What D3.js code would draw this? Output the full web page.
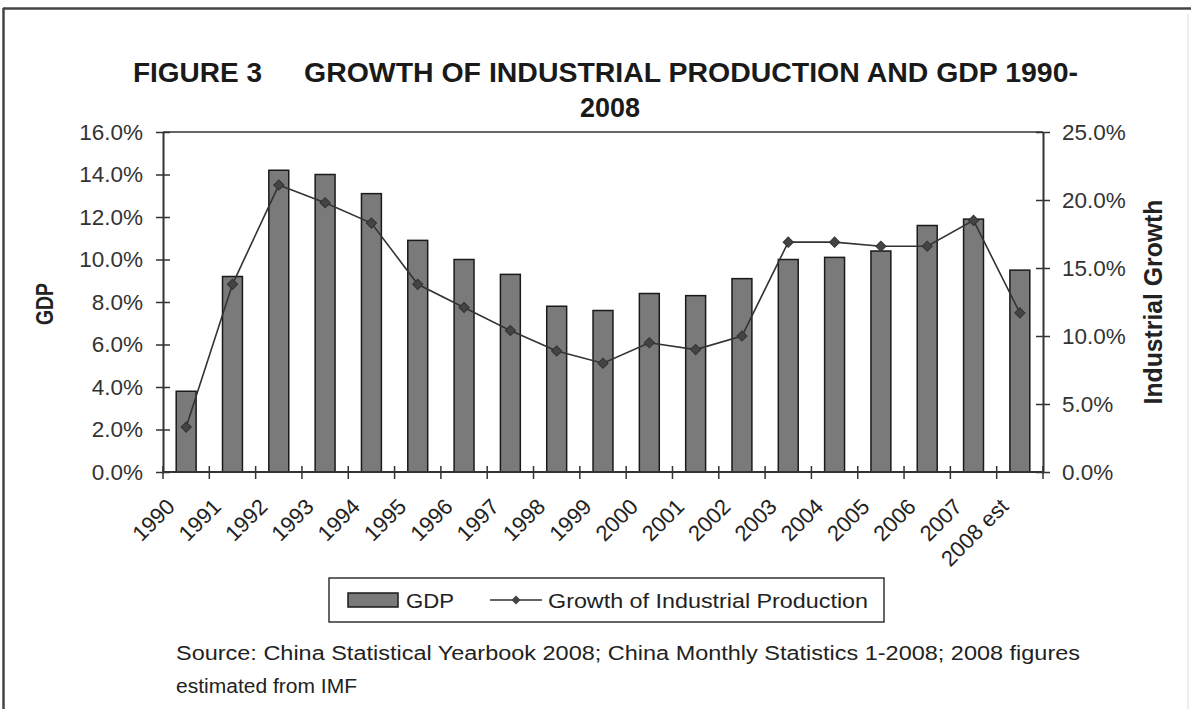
<!DOCTYPE html>
<html>
<head>
<meta charset="utf-8">
<script src="https://cdn.jsdelivr.net/npm/d3@7"></script>
<style>
  html, body { margin: 0; padding: 0; background: #fff; }
  svg { display: block; font-family: "Liberation Sans", Arial, sans-serif; }
</style>
</head>
<body>
<svg id="chart" width="1191" height="709"></svg>
<script>
// ---- data ----
const years = ["1990","1991","1992","1993","1994","1995","1996","1997","1998","1999",
               "2000","2001","2002","2003","2004","2005","2006","2007","2008 est"];
const gdp = [3.8, 9.2, 14.2, 14.0, 13.1, 10.9, 10.0, 9.3, 7.8, 7.6,
             8.4, 8.3, 9.1, 10.0, 10.1, 10.4, 11.6, 11.9, 9.5];
const industrial = [3.3, 13.8, 21.1, 19.8, 18.3, 13.8, 12.1, 10.4, 8.9, 8.0,
                    9.5, 9.0, 10.0, 16.9, 16.9, 16.6, 16.6, 18.5, 11.7];
const leftTicks = [0, 2, 4, 6, 8, 10, 12, 14, 16];
const rightTicks = [0, 5, 10, 15, 20, 25];
const titleLine1a = "FIGURE 3";
const titleLine1b = "GROWTH OF INDUSTRIAL PRODUCTION AND GDP 1990-";
const titleLine2 = "2008";
const leftTitle = "GDP";
const rightTitle = "Industrial Growth";
const legendLabels = ["GDP", "Growth of Industrial Production"];
const sourceLines = ["Source: China Statistical Yearbook 2008; China Monthly Statistics 1-2008; 2008 figures",
                     "estimated from IMF"];

// ---- layout ----
const svg = d3.select("#chart");
const L = 163, R = 1043, T = 132, B = 472;
const axisCol = "#333";

// outer frame
svg.append("line").attr("x1", 3).attr("x2", 1191).attr("y1", 8.5).attr("y2", 8.5)
  .attr("stroke", "#444").attr("stroke-width", 2.5);
svg.append("line").attr("x1", 3.5).attr("x2", 3.5).attr("y1", 8).attr("y2", 709)
  .attr("stroke", "#444").attr("stroke-width", 2.5);
svg.append("line").attr("x1", 1188).attr("x2", 1188).attr("y1", 14).attr("y2", 709)
  .attr("stroke", "#ddd").attr("stroke-width", 1);

// scales
const x = d3.scaleBand().domain(years).range([L, R]).paddingInner(0.57).paddingOuter(0.285);
const yL = d3.scaleLinear().domain([0, 16]).range([B, T]);
const yR = d3.scaleLinear().domain([0, 25]).range([B, T]);

// plot top border
svg.append("line").attr("x1", L).attr("x2", R).attr("y1", T).attr("y2", T)
  .attr("stroke", axisCol).attr("stroke-width", 1.5);

// bars
svg.append("g").selectAll("rect").data(gdp).join("rect")
  .attr("x", (d, i) => x(years[i]))
  .attr("width", x.bandwidth())
  .attr("y", d => yL(d))
  .attr("height", d => B - yL(d))
  .attr("fill", "#7a7a7a")
  .attr("stroke", "#1a1a1a")
  .attr("stroke-width", 1.5);

// left axis
const gL = svg.append("g").attr("transform", `translate(${L},0)`)
  .call(d3.axisLeft(yL).tickValues(leftTicks).tickFormat(d => d.toFixed(1) + "%")
        .tickSizeInner(7).tickSizeOuter(0).tickPadding(13));
gL.select(".domain").attr("stroke", axisCol).attr("stroke-width", 2);
gL.selectAll(".tick line").attr("x1", 7).attr("stroke", axisCol).attr("stroke-width", 1.5);
gL.selectAll(".tick text").attr("font-size", 22.5).attr("fill", "#333")
  .attr("font-family", "'Liberation Sans', Arial, sans-serif");

// right axis
const gR = svg.append("g").attr("transform", `translate(${R},0)`)
  .call(d3.axisRight(yR).tickValues(rightTicks).tickFormat(d => d.toFixed(1) + "%")
        .tickSizeInner(7).tickSizeOuter(0).tickPadding(12));
gR.select(".domain").attr("stroke", axisCol).attr("stroke-width", 2);
gR.selectAll(".tick line").attr("x1", -7).attr("stroke", axisCol).attr("stroke-width", 1.5);
gR.selectAll(".tick text").attr("font-size", 22.5).attr("fill", "#333")
  .attr("font-family", "'Liberation Sans', Arial, sans-serif");

// x axis (ticks between categories)
const step = x.step();
const bounds = d3.range(years.length + 1).map(i => L + i * step);
svg.append("line").attr("x1", L).attr("x2", R).attr("y1", B).attr("y2", B)
  .attr("stroke", axisCol).attr("stroke-width", 2);
svg.append("g").selectAll("line").data(bounds).join("line")
  .attr("x1", d => d).attr("x2", d => d).attr("y1", B - 6).attr("y2", B + 7)
  .attr("stroke", axisCol).attr("stroke-width", 1.5);
svg.append("g").selectAll("text").data(years).join("text")
  .attr("transform", d => `translate(${x(d) + x.bandwidth() / 2 - 10},${508}) rotate(-45)`)
  .attr("text-anchor", "end")
  .attr("font-size", 22)
  .attr("fill", "#222")
  .text(d => d);

// line
const line = d3.line().x((d, i) => x(years[i]) + x.bandwidth() / 2).y(d => yR(d));
svg.append("path").datum(industrial).attr("d", line)
  .attr("fill", "none").attr("stroke", "#333").attr("stroke-width", 1.6);
svg.append("g").selectAll("path").data(industrial).join("path")
  .attr("d", d3.symbol().type(d3.symbolSquare).size(52))
  .attr("transform", (d, i) => `translate(${x(years[i]) + x.bandwidth() / 2},${yR(d)}) rotate(45)`)
  .attr("fill", "#444").attr("stroke", "#333").attr("stroke-width", 1);

// titles
svg.append("text").attr("x", 133).attr("y", 82).attr("font-size", 27).attr("font-weight", "bold")
  .attr("fill", "#1a1a1a").attr("textLength", 129).attr("lengthAdjust", "spacingAndGlyphs").text(titleLine1a);
svg.append("text").attr("x", 304).attr("y", 82).attr("font-size", 27).attr("font-weight", "bold")
  .attr("fill", "#1a1a1a").attr("textLength", 774).attr("lengthAdjust", "spacingAndGlyphs").text(titleLine1b);
svg.append("text").attr("x", 580).attr("y", 117).attr("font-size", 27).attr("font-weight", "bold")
  .attr("fill", "#1a1a1a").attr("textLength", 60).attr("lengthAdjust", "spacingAndGlyphs").text(titleLine2);

// axis titles
svg.append("text").attr("transform", "translate(53,304) rotate(-90)")
  .attr("text-anchor", "middle").attr("font-size", 23).attr("font-weight", "bold").attr("fill", "#222")
  .attr("textLength", 42).attr("lengthAdjust", "spacingAndGlyphs").text(leftTitle);
svg.append("text").attr("transform", "translate(1162,302) rotate(-90)")
  .attr("text-anchor", "middle").attr("font-size", 25).attr("font-weight", "bold").attr("fill", "#222")
  .attr("textLength", 205).attr("lengthAdjust", "spacingAndGlyphs").text(rightTitle);

// legend
const lg = svg.append("g");
lg.append("rect").attr("x", 329).attr("y", 578).attr("width", 555).attr("height", 44)
  .attr("fill", "#fff").attr("stroke", "#333").attr("stroke-width", 1.5);
lg.append("rect").attr("x", 348).attr("y", 593).attr("width", 50).attr("height", 14)
  .attr("fill", "#7a7a7a").attr("stroke", "#1a1a1a").attr("stroke-width", 1.5);
lg.append("text").attr("x", 406).attr("y", 608).attr("font-size", 21).attr("fill", "#222")
  .attr("textLength", 48).attr("lengthAdjust", "spacingAndGlyphs").text(legendLabels[0]);
lg.append("line").attr("x1", 490).attr("x2", 542).attr("y1", 600).attr("y2", 600)
  .attr("stroke", "#333").attr("stroke-width", 1.6);
lg.append("path").attr("d", d3.symbol().type(d3.symbolSquare).size(40))
  .attr("transform", "translate(516,600) rotate(45)").attr("fill", "#444");
lg.append("text").attr("x", 548).attr("y", 608).attr("font-size", 21).attr("fill", "#222")
  .attr("textLength", 320).attr("lengthAdjust", "spacingAndGlyphs").text(legendLabels[1]);

// source
svg.append("text").attr("x", 176).attr("y", 660).attr("font-size", 20).attr("fill", "#222")
  .attr("textLength", 904).attr("lengthAdjust", "spacingAndGlyphs").text(sourceLines[0]);
svg.append("text").attr("x", 176).attr("y", 693).attr("font-size", 20).attr("fill", "#222")
  .attr("textLength", 181).attr("lengthAdjust", "spacingAndGlyphs").text(sourceLines[1]);
</script>
</body>
</html>
